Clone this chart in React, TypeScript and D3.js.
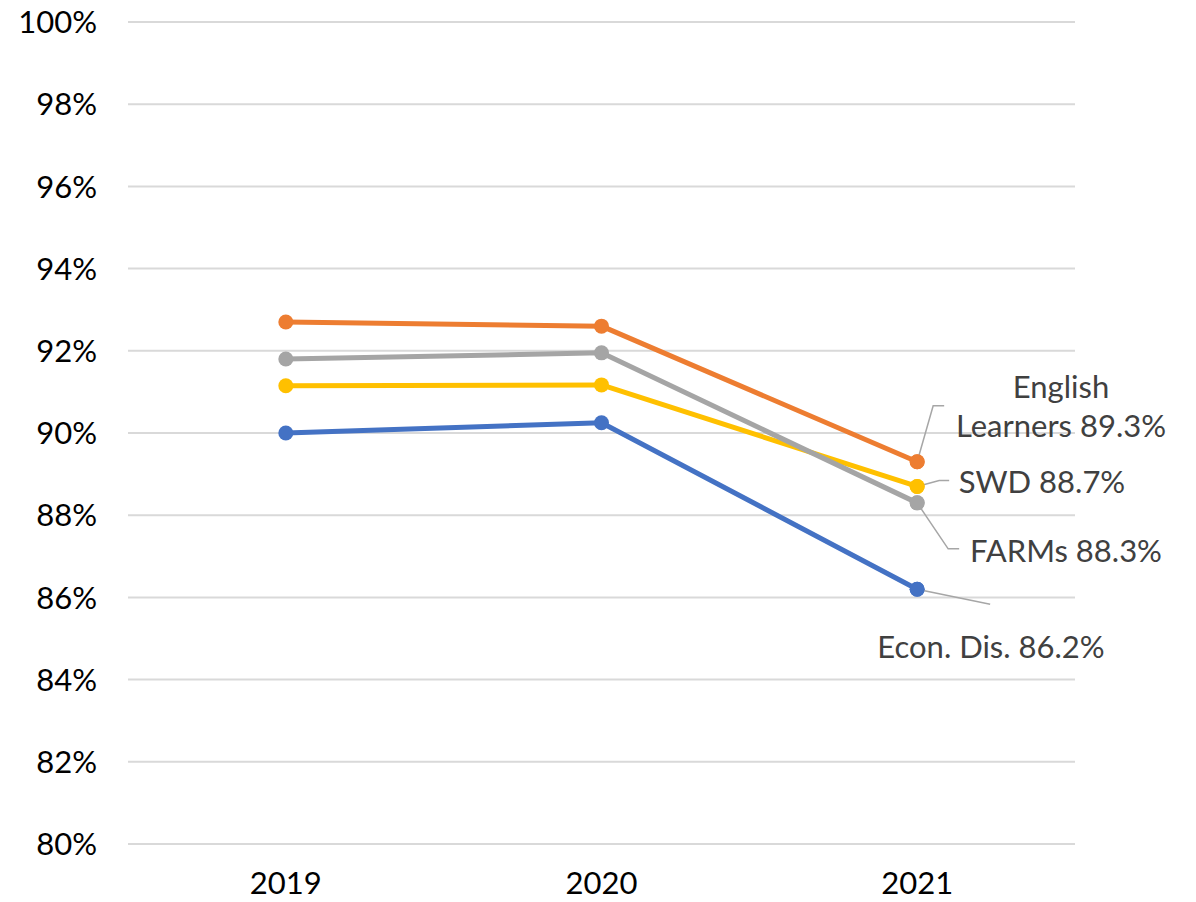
import React, { useRef, useEffect } from 'react';
import * as d3 from 'd3';

const years = ['2019', '2020', '2021'];
const englishLearners = [92.7, 92.6, 89.3];
const farms = [91.8, 91.95, 88.3];
const swd = [91.15, 91.17, 88.7];
const econDis = [90.0, 90.25, 86.2];
const yTicks = [80, 82, 84, 86, 88, 90, 92, 94, 96, 98, 100];

const series = [
  { name: 'Econ. Dis.', values: econDis, color: '#4472c4' },
  { name: 'SWD', values: swd, color: '#ffc000' },
  { name: 'FARMs', values: farms, color: '#a5a5a5' },
  { name: 'English Learners', values: englishLearners, color: '#ed7d31' },
];

const App = () => {
  const svgRef = useRef<SVGSVGElement>(null);

  useEffect(() => {
    const width = 1196;
    const height = 902;
    const left = 128;
    const right = 1075;
    const top = 22;
    const bottom = 844;
    const fs = 31;
    const font = 'Lato, "Noto Sans", sans-serif';

    const svg = d3.select(svgRef.current)
      .attr('width', width)
      .attr('height', height)
      .style('position', 'absolute')
      .style('left', '0px')
      .style('top', '0px')
      .style('background', '#ffffff')
      .style('font-family', font);
    svg.selectAll('*').remove();

    // scales
    const x = d3.scaleBand().domain(years).range([left, right]);
    const y = d3.scaleLinear().domain([80, 100]).range([bottom, top]);
    const cx = (d: string) => (x(d) as number) + x.bandwidth() / 2;

    // gridlines
    svg.append('g')
      .selectAll('line')
      .data(yTicks)
      .enter()
      .append('line')
      .attr('x1', left)
      .attr('x2', right)
      .attr('y1', d => y(d))
      .attr('y2', d => y(d))
      .attr('stroke', '#d9d9d9')
      .attr('stroke-width', 2);

    // y tick labels
    svg.append('g')
      .selectAll('text')
      .data(yTicks)
      .enter()
      .append('text')
      .attr('x', 97)
      .attr('y', d => y(d))
      .attr('dy', '0.36em')
      .attr('text-anchor', 'end')
      .attr('font-size', fs)
      .attr('fill', '#000')
      .text(d => `${d}%`);

    // x tick labels
    svg.append('g')
      .selectAll('text')
      .data(years)
      .enter()
      .append('text')
      .attr('x', d => cx(d))
      .attr('y', 894)
      .attr('text-anchor', 'middle')
      .attr('font-size', fs)
      .attr('fill', '#000')
      .text(d => d);

    const line = d3.line<number>()
      .x((d, i) => cx(years[i]))
      .y(d => y(d));

    // lines and markers
    series.forEach(s => {
      const g = svg.append('g');
      g.append('path')
        .datum(s.values)
        .attr('d', line)
        .attr('fill', 'none')
        .attr('stroke', s.color)
        .attr('stroke-width', 5)
        .attr('stroke-linejoin', 'round');
      g.selectAll('circle')
        .data(s.values)
        .enter()
        .append('circle')
        .attr('cx', (d, i) => cx(years[i]))
        .attr('cy', d => y(d))
        .attr('r', 7.5)
        .attr('fill', s.color);
    });

    // data labels for the last point with leader lines
    const lastX = cx(years[2]);
    const labels = [
      {
        lines: ['English', `Learners ${englishLearners[2]}%`],
        v: englishLearners[2],
        leader: [[16, -56], [27, -56]],
        tx: 1061, ty: 437,
      },
      {
        lines: [`SWD ${swd[2]}%`],
        v: swd[2],
        leader: [[22, -6], [32, -6]],
        tx: 1042, ty: 493,
      },
      {
        lines: [`FARMs ${farms[2]}%`],
        v: farms[2],
        leader: [[31, 46], [42, 46]],
        tx: 1066, ty: 562,
      },
      {
        lines: [`Econ. Dis. ${econDis[2]}%`],
        v: econDis[2],
        leader: [[73, 15]],
        tx: 991, ty: 658,
      },
    ];

    labels.forEach(l => {
      const py = y(l.v);
      const pts: [number, number][] = [[lastX, py], ...l.leader.map(p => [lastX + p[0], py + p[1]] as [number, number])];
      svg.append('path')
        .attr('d', d3.line()(pts))
        .attr('fill', 'none')
        .attr('stroke', '#a6a6a6')
        .attr('stroke-width', 1.5);
      const t = svg.append('text')
        .attr('x', l.tx)
        .attr('y', l.ty - (l.lines.length - 1) * 39)
        .attr('text-anchor', 'middle')
        .attr('font-size', fs)
        .attr('fill', '#404040');
      l.lines.forEach((ln, i) => {
        t.append('tspan')
          .attr('x', l.tx)
          .attr('dy', i === 0 ? 0 : 39)
          .text(ln);
      });
    });

    // redraw the last markers on top of leader lines
    series.forEach(s => {
      svg.append('circle')
        .attr('cx', lastX)
        .attr('cy', y(s.values[2]))
        .attr('r', 7.5)
        .attr('fill', s.color);
    });
  }, []);

  return <svg ref={svgRef}></svg>;
};

export default App;
